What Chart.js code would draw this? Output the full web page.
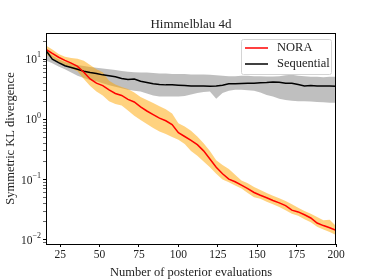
<!DOCTYPE html>
<html>
<head>
<meta charset="utf-8">
<script src="https://cdn.jsdelivr.net/npm/chart.js@4"></script>
<style>
  html, body { margin: 0; padding: 0; background: #fff; }
  canvas { display: block; }
</style>
</head>
<body>
<canvas id="kl" width="374" height="280"></canvas>
<script>
// number of posterior evaluations
const evals = [16,20,24,28,32,36,40,44,48,52,56,60,64,68,72,76,80,84,88,92,96,100,104,108,112,116,120,124,128,132,136,140,144,148,152,156,160,164,168,172,176,180,184,188,192,196,200];

// NORA: mean and band
const noraMean = [14.6,12.5,10.8,9.6,8.6,7.6,6.1,4.7,4.0,3.65,3.1,2.7,2.5,2.15,1.95,1.62,1.38,1.2,1.05,0.95,0.82,0.6,0.52,0.45,0.38,0.3,0.22,0.16,0.125,0.102,0.092,0.081,0.071,0.061,0.055,0.05,0.045,0.041,0.037,0.031,0.029,0.026,0.023,0.019,0.0172,0.0158,0.0143];
const noraUpper = [17,14.5,12.2,11.0,10.5,10.2,9.4,8.0,6.8,6.1,4.4,3.8,3.45,3.2,2.8,2.35,2.1,1.88,1.65,1.48,1.25,0.86,0.76,0.65,0.52,0.4,0.3,0.21,0.175,0.15,0.12,0.097,0.087,0.075,0.067,0.06,0.054,0.049,0.044,0.039,0.034,0.03,0.027,0.024,0.021,0.0215,0.017];
const noraLower = [12,10.5,9.0,8.0,7.0,6.3,4.7,3.6,2.9,2.5,2.0,1.8,1.7,1.4,1.15,0.98,0.84,0.72,0.63,0.57,0.51,0.46,0.39,0.3,0.25,0.2,0.16,0.125,0.1,0.09,0.08,0.071,0.06,0.051,0.048,0.043,0.039,0.035,0.031,0.027,0.025,0.022,0.0195,0.0165,0.0148,0.0135,0.012];

// Sequential: mean and band
const seqMean = [14.0,10.0,8.8,7.8,7.3,6.8,6.3,6.0,5.8,5.5,5.3,5.1,4.8,4.6,4.7,4.3,4.1,3.9,3.8,3.75,3.75,3.7,3.65,3.6,3.6,3.6,3.55,3.6,3.7,3.9,3.9,3.95,4.0,4.0,4.05,4.1,4.2,4.15,4.0,4.0,3.8,3.6,3.65,3.6,3.6,3.6,3.55];
const seqUpper = [14.5,11.5,10.0,9.0,8.5,8.0,7.7,7.4,7.2,7.0,6.8,6.6,6.4,6.2,6.1,6.0,6.0,5.9,5.8,5.8,5.7,5.7,5.7,5.6,5.6,5.6,5.5,5.4,5.3,5.2,5.2,5.3,5.3,5.2,5.2,5.15,5.15,5.2,5.4,5.5,5.3,5.2,5.1,5.1,5.0,5.1,5.1];
const seqLower = [9.5,8.6,7.6,6.8,6.0,5.3,4.9,4.5,4.3,4.0,3.7,3.5,3.3,3.1,3.0,2.9,2.7,2.5,2.4,2.4,2.4,2.4,2.45,2.6,2.75,2.85,2.9,2.2,2.75,3.0,3.1,3.1,3.05,3.0,2.8,2.55,2.4,2.2,2.1,2.05,2.0,2.0,1.98,1.95,1.92,1.9,1.9];

const xTicks = [25,50,75,100,125,150,175,200];
const yMajor = [0.01,0.1,1,10];
const yExp = ['\u22122','\u22121','0','1'];
const titleText = 'Himmelblau 4d';

const serif = "'Liberation Serif', 'DejaVu Serif', serif";

const pts = arr => arr.map((v, i) => ({ x: evals[i], y: v }));

// minor + major ticks of the log axis
const yTickVals = [];
[0.001,0.01,0.1,1,10].forEach(d => {
  for (let m = 1; m <= 9; m++) yTickVals.push(d * m);
});

const framePlugin = {
  id: 'frame',
  afterDraw(chart) {
    const { ctx, chartArea: a } = chart;
    ctx.save();
    ctx.strokeStyle = '#000';
    ctx.lineWidth = 1;
    ctx.strokeRect(Math.round(a.left) + 0.5, Math.round(a.top) + 0.5,
      Math.round(a.right - a.left) - 1, Math.round(a.bottom - a.top));
    // title centred over the axes
    ctx.fillStyle = '#222';
    ctx.font = '13px ' + serif;
    ctx.textAlign = 'center';
    ctx.textBaseline = 'middle';
    ctx.fillText(titleText, (a.left + a.right) / 2, a.top - 8);
    ctx.restore();
  }
};

// y tick labels as 10 with a raised exponent
const powLabels = {
  id: 'powLabels',
  afterDraw(chart) {
    const { ctx } = chart;
    const y = chart.scales.y;
    ctx.save();
    ctx.fillStyle = '#222';
    ctx.textBaseline = 'middle';
    yMajor.forEach((v, i) => {
      const py = y.getPixelForValue(v);
      const right = y.right - 5;
      ctx.font = '8px ' + serif;
      const ew = ctx.measureText(yExp[i]).width;
      ctx.textAlign = 'left';
      ctx.fillText(yExp[i], right - ew, py - 4);
      ctx.font = '11.5px ' + serif;
      ctx.textAlign = 'right';
      ctx.fillText('10', right - ew, py + 1);
    });
    ctx.restore();
  }
};

const legendBox = {
  id: 'legendBox',
  afterDraw(chart) {
    const { ctx, chartArea: a } = chart;
    const items = chart.data.datasets.filter(d => d.showInLegend);
    const w = 90, h = 35;
    const x0 = a.right - 5 - w, y0 = a.top + 6;
    ctx.save();
    ctx.fillStyle = 'rgba(255,255,255,0.85)';
    ctx.strokeStyle = '#d4d4d4';
    ctx.lineWidth = 1;
    ctx.beginPath();
    ctx.roundRect(Math.round(x0) + 0.5, Math.round(y0) + 0.5, w, h, 2);
    ctx.fill();
    ctx.stroke();
    ctx.font = '12.5px ' + serif;
    ctx.textBaseline = 'middle';
    ctx.textAlign = 'left';
    items.forEach((d, i) => {
      const ly = y0 + 9 + i * 16;
      ctx.strokeStyle = d.borderColor;
      ctx.lineWidth = 1.5;
      ctx.beginPath();
      ctx.moveTo(x0 + 4, ly);
      ctx.lineTo(x0 + 27, ly);
      ctx.stroke();
      ctx.fillStyle = '#222';
      ctx.fillText(d.label, x0 + 36, ly);
    });
    ctx.restore();
  }
};

new Chart(document.getElementById('kl'), {
  type: 'line',
  data: {
    datasets: [
      { label: 'NORA band', data: pts(noraUpper), fill: '+1', backgroundColor: 'rgba(255,165,0,0.5)', borderWidth: 0, pointRadius: 0 },
      { label: 'NORA low', data: pts(noraLower), fill: false, borderWidth: 0, pointRadius: 0 },
      { label: 'Seq band', data: pts(seqUpper), fill: '+1', backgroundColor: 'rgba(128,128,128,0.5)', borderWidth: 0, pointRadius: 0 },
      { label: 'Seq low', data: pts(seqLower), fill: false, borderWidth: 0, pointRadius: 0 },
      { label: 'NORA', showInLegend: true, data: pts(noraMean), borderColor: '#ff0000', borderWidth: 1.5, pointRadius: 0, fill: false },
      { label: 'Sequential', showInLegend: true, data: pts(seqMean), borderColor: '#000000', borderWidth: 1.5, pointRadius: 0, fill: false }
    ]
  },
  options: {
    responsive: false,
    animation: false,
    layout: { padding: { left: 0, right: 38, top: 33, bottom: 0 } },
    plugins: {
      legend: { display: false },
      tooltip: { enabled: false },
      filler: { drawTime: 'beforeDatasetsDraw' },
      title: { display: false }
    },
    scales: {
      x: {
        type: 'linear',
        min: 16,
        max: 200,
        afterBuildTicks: s => { s.ticks = xTicks.map(v => ({ value: v })); },
        afterFit: s => { s.height = 36; },
        ticks: { color: '#222', font: { family: serif, size: 11.5 }, padding: 1, maxRotation: 0, autoSkip: false },
        grid: { drawOnChartArea: false, drawTicks: true, tickLength: 3, color: '#000' },
        border: { display: true, color: '#000' },
        title: { display: true, text: 'Number of posterior evaluations', color: '#222', font: { family: serif, size: 12.5 }, padding: { top: 0, bottom: 0 } }
      },
      y: {
        type: 'logarithmic',
        min: 0.0085,
        max: 27.3,
        afterBuildTicks: s => { s.ticks = yTickVals.filter(v => v >= s.min && v <= s.max).map(v => ({ value: v })); },
        afterFit: s => { s.width = 46; },
        ticks: { callback: () => '', autoSkip: false },
        grid: {
          drawOnChartArea: false, drawTicks: true, tickLength: 3,
          color: '#000',
          tickWidth: ctx => (yMajor.some(v => Math.abs(v - ctx.tick.value) < 1e-9) ? 1 : 0.6)
        },
        border: { display: true, color: '#000' },
        title: { display: true, text: 'Symmetric KL divergence', color: '#222', font: { family: serif, size: 12.5 }, padding: { top: 3, bottom: 0 } }
      }
    }
  },
  plugins: [framePlugin, powLabels, legendBox]
});
</script>
</body>
</html>
